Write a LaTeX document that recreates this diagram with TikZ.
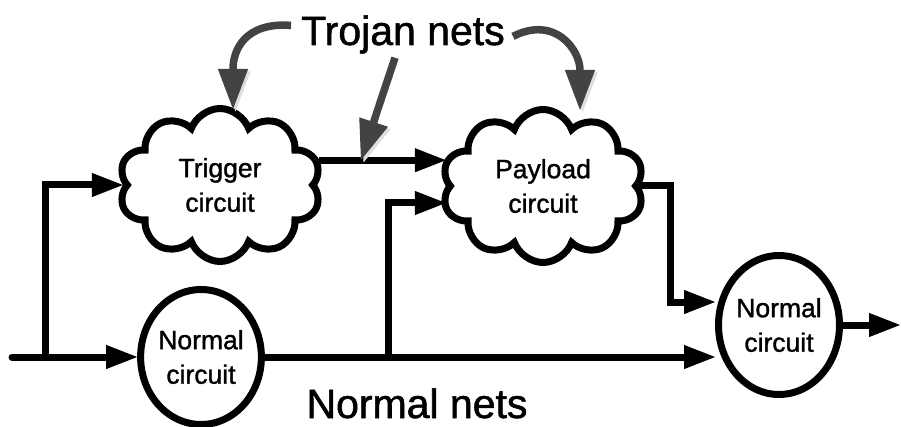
\documentclass[tikz,border=0pt]{standalone}
\usepackage{fontspec}
\setmainfont{Liberation Sans}[BoldFont=Liberation Sans, BoldFeatures={FakeBold=1.3}]
\usetikzlibrary{shapes.symbols,shapes.geometric,arrows.meta,calc}
\definecolor{trojgray}{HTML}{434343}
\begin{document}
\begin{tikzpicture}[x=1pt,y=-1pt,
  net/.style={line width=7pt, -{Triangle[length=31pt,width=24pt,line width=1pt]}},
  cloudbox/.style={cloud, draw, line width=7pt, cloud puffs=10, cloud puff arc=140,
    cloud ignores aspect, minimum width=202pt, minimum height=153pt, inner sep=0pt,
    align=center, font=\fontsize{26.5}{34.5}\selectfont\bfseries},
  circbox/.style={ellipse, draw, line width=7pt, inner sep=0pt, align=center,
    font=\fontsize{26.5}{34.5}\selectfont\bfseries},
  trojarrow/.style={draw=trojgray, line width=7.5pt,
    -{Triangle[length=40pt,width=30pt,line width=1pt]},
    preaction={draw=black!13, transform canvas={shift={(2.5pt,-2.5pt)}}}},
  bigtext/.style={font=\fontsize{41}{45}\selectfont\bfseries, inner sep=0pt}
]
\useasboundingbox (0,0) rectangle (901,427);

\node[cloudbox] (trig) at (220,185) {Trigger\\circuit};
\node[cloudbox] (pay) at (543,186) {Payload\\circuit};
\node[circbox, minimum width=118pt, minimum height=135pt] (n1) at (201,357) {Normal\\circuit};
\node[circbox, minimum width=121pt, minimum height=139pt] (n2) at (779,325) {Normal\\circuit};
\node[bigtext, anchor=base] (trojan) at (403,45) {Trojan nets};
\node[bigtext, anchor=base] (normal) at (417,418) {Normal nets};

\coordinate (in) at (12,357);
\coordinate (b1) at (45,357);
\coordinate (b2) at (388,357);
\coordinate (out) at (900,325);
\coordinate (tnet) at (361,160);

\draw[net, line cap=round] (in) -- (n1.west);
\draw[net] (b1) |- (trig.west);
\draw[net] (trig.14) -- (pay.west |- trig.14);
\draw[net] (n1.east) -- (n2.west |- n1.east);
\draw[net] (b2) |- ($(pay.west)+(0,17)$);
\draw[net] (pay.east) -- (pay.east -| 670,0) |- (n2.west |- 0,302);
\draw[net] (n2.east) -- (out);

\draw[trojarrow] ($(trojan.west)+(-10,-9)$) .. controls (245,22) and (233,50) .. ($(trig.north)+(13,4)$);
\draw[trojarrow] ($(trojan.south)+(-8,4)$) -- (tnet);
\draw[trojarrow] ($(trojan.east)+(8,2)$) .. controls (555,15) and (580,50) .. ($(pay.north)+(37,4)$);
\end{tikzpicture}
\end{document}
